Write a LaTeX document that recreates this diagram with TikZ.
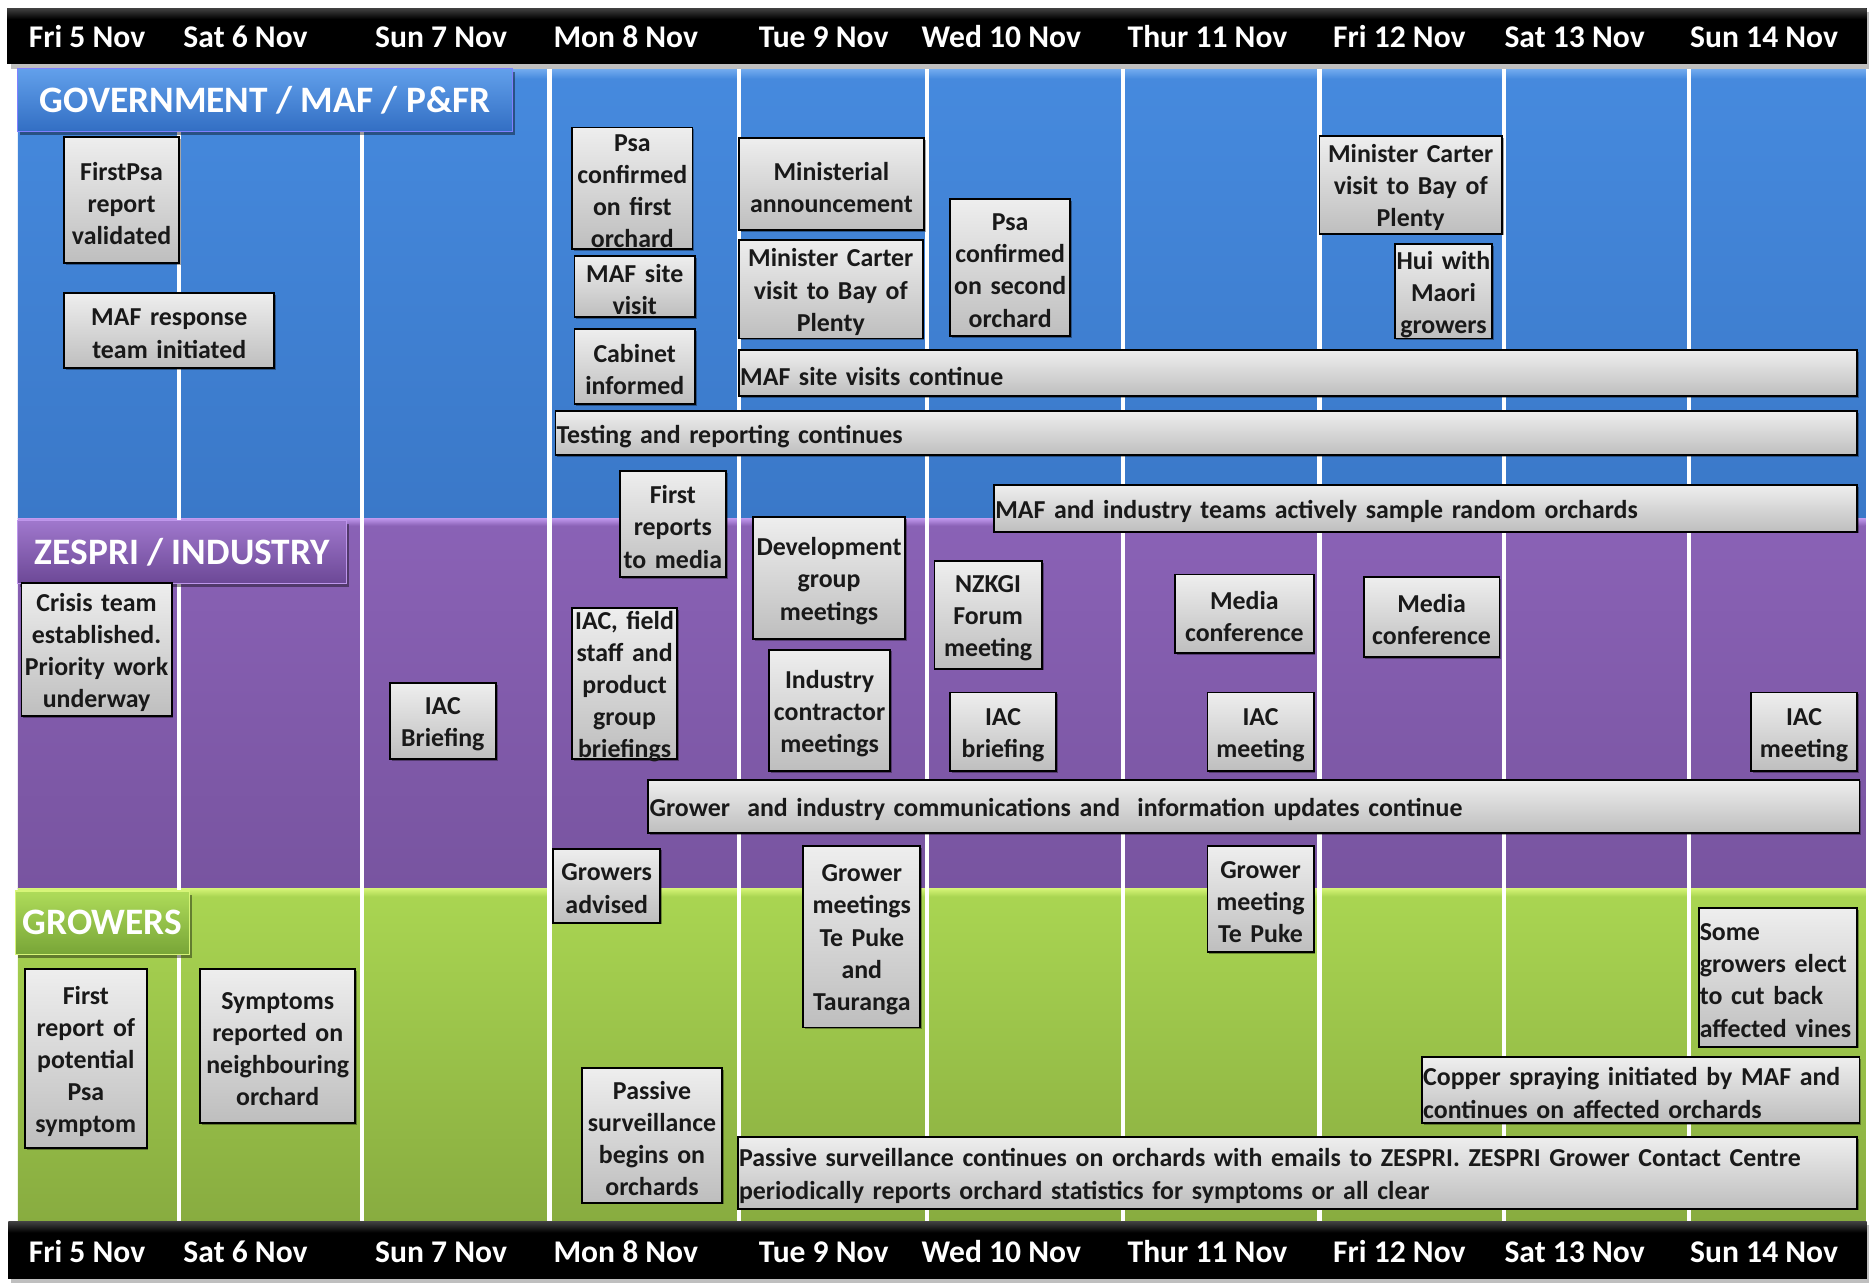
\documentclass[tikz,border=0pt]{standalone}
\usepackage{fontspec}
\setmainfont{Carlito}
\usetikzlibrary{shadows}
\definecolor{blueT}{RGB}{70,138,222}
\definecolor{blueB}{RGB}{58,120,200}
\definecolor{blueHi}{RGB}{120,175,240}
\definecolor{purT}{RGB}{138,98,182}
\definecolor{purB}{RGB}{120,84,160}
\definecolor{purHi}{RGB}{190,150,235}
\definecolor{grnT}{RGB}{170,214,82}
\definecolor{grnB}{RGB}{136,172,64}
\definecolor{grnHi}{RGB}{215,245,120}
\definecolor{boxT}{RGB}{238,238,238}
\definecolor{boxB}{RGB}{190,190,190}
\newcommand\ev[7]{%
  \pgfmathsetmacro\evw{#4-#2}%
  \pgfmathsetmacro\evh{#5-#3}%
  \pgfmathsetmacro\evtw{#4-#2-2}%
  \node[evframe, minimum width=\evw pt, minimum height=\evh pt] (#1) at ({(#2+#4)/2},{(#3+#5)/2}) {};
  \node[evtext, text width=\evtw pt, align=#6] (#1-t) at (#1.center) {#7};}
\begin{document}
\begin{tikzpicture}[x=1pt,y=-1pt,
  evframe/.style={draw=black, line width=1.6pt, top color=boxT, bottom color=boxB, inner sep=0pt,
    drop shadow={shadow xshift=1.5pt, shadow yshift=-1.5pt, opacity=0.35, fill=black}},
  evtext/.style={inner xsep=0pt, inner ysep=0pt, yshift=-2.5pt,
    font=\fontsize{21.7}{27}\selectfont\bfseries, text=black!90},
  daylab/.style={font=\fontsize{26.5}{30}\selectfont\bfseries, text=white, anchor=base, inner sep=0pt},
  bandlab/.style={font=\fontsize{31.3}{36}\selectfont\bfseries, text=white, inner sep=0pt, line width=1pt,
    drop shadow={shadow xshift=2pt, shadow yshift=-3pt, opacity=0.4, fill=black}},
  vline/.style={draw=white, line width=3.5pt}]
\useasboundingbox (0,0) rectangle (1568,1076);
\fill[white] (0,0) rectangle (1568,1076);
% bands
\shade[top color=blueT, bottom color=blueB] (15,57) rectangle (1565,435);
\shade[top color=blueHi, bottom color=blueT] (15,57) rectangle (1565,66);
\shade[top color=purT, bottom color=purB] (15,435) rectangle (1565,745);
\shade[top color=purHi, bottom color=purT] (15,435) rectangle (1565,441);
\shade[top color=grnT, bottom color=grnB] (15,745) rectangle (1565,1025);
\shade[top color=grnHi, bottom color=grnT] (15,745) rectangle (1565,752);
% day separators
\foreach \x in {150,304,461,620,778,942,1107,1262,1417} \draw[vline] (\x,58) -- (\x,1025);
% black date bars
\fill[black!25] (9,10) rectangle (1568,58);
\fill[black] (6,7) rectangle (1566,54);
\shade[top color=black!75, bottom color=black] (6,7) rectangle (1566,16);
\fill[black!25] (9,1028) rectangle (1568,1076);
\fill[black] (7,1025) rectangle (1566,1073);
\shade[top color=black!75, bottom color=black] (7,1025) rectangle (1566,1034);
\foreach \n/\x/\t in {1/73/Fri 5 Nov,2/206/Sat 6 Nov,3/370/Sun 7 Nov,4/525/Mon 8 Nov,5/691/Tue 9 Nov,6/840/Wed 10 Nov,7/1013/Thur 11 Nov,8/1174/Fri 12 Nov,9/1321/Sat 13 Nov,10/1480/Sun 14 Nov}{
  \node[daylab] (top\n) at (\x,39.5) {\t};
  \node[daylab] (bot\n) at (\x,1059.5) {\t};
}
% band labels
\node[bandlab, draw=blue!50!white, top color={rgb,255:red,98;green,160;blue,235}, bottom color={rgb,255:red,50;green,110;blue,195},
  minimum width=415pt, minimum height=53pt] (gov) at (222.5,84) {GOVERNMENT / MAF / P\&FR};
\node[bandlab, draw=purHi, top color={rgb,255:red,160;green,120;blue,205}, bottom color={rgb,255:red,108;green,72;blue,150},
  minimum width=276pt, minimum height=53pt] (zes) at (153,463) {ZESPRI / INDUSTRY};
\node[bandlab, draw=grnHi, top color={rgb,255:red,175;green,220;blue,90}, bottom color={rgb,255:red,120;green,165;blue,55},
  minimum width=146pt, minimum height=53pt] (grw) at (86,774) {GROWERS};
% government events
\ev{fpv}{54}{115}{150}{221}{center}{FirstPsa\\report\\validated}
\ev{mrt}{54}{246}{230}{309}{center}{MAF response\\team initiated}
\ev{pc1}{480}{107}{581}{209}{center}{Psa\\confirmed\\on first\\orchard}
\ev{msv}{482}{215}{583}{266}{center}{MAF site\\visit}
\ev{cab}{482}{276}{583}{339}{center}{Cabinet\\informed}
\ev{minann}{620}{116}{775}{193}{center}{Ministerial\\announcement}
\ev{mc1}{620}{201}{774}{284}{center}{Minister Carter\\visit to Bay of\\Plenty}
\ev{pc2}{797}{167}{898}{282}{center}{Psa\\confirmed\\on second\\orchard}
\ev{mc2}{1107}{114}{1260}{196}{center}{Minister Carter\\visit to Bay of\\Plenty}
\ev{hui}{1170}{205}{1252}{284}{center}{Hui with\\Maori\\growers}
\ev{msvc}{620}{294}{1558}{332}{left}{MAF site visits continue}
\ev{trc}{466}{345}{1558}{382}{left}{Testing and reporting continues}
\ev{frm}{520}{395}{609}{484}{center}{First\\reports\\to media}
\ev{mis}{834}{407}{1558}{446}{left}{MAF and industry teams actively sample random orchards}
% industry events
\ev{crisis}{18}{489}{144}{601}{center}{Crisis team\\established.\\Priority work\\underway}
\ev{iaca}{327}{573}{416}{637}{center}{IAC\\Briefing}
\ev{iacf}{480}{510}{568}{637}{center}{IAC, field\\staff and\\product\\group\\briefings}
\ev{dev}{632}{434}{759}{536}{center}{Development\\group\\meetings}
\ev{ind}{645}{545}{747}{647}{center}{Industry\\contractor\\meetings}
\ev{nzk}{784}{471}{874}{561}{center}{NZKGI\\Forum\\meeting}
\ev{iacb}{797}{581}{886}{647}{center}{IAC\\briefing}
\ev{meda}{986}{482}{1102}{548}{center}{Media\\conference}
\ev{medb}{1144}{484}{1258}{551}{center}{Media\\conference}
\ev{iacc}{1013}{581}{1102}{647}{center}{IAC\\meeting}
\ev{iacd}{1469}{581}{1558}{647}{center}{IAC\\meeting}
\ev{gic}{544}{654}{1560}{699}{left}{Grower\ \ and industry communications and\ \ information updates continue}
\ev{gad}{464}{712}{554}{774}{center}{Growers\\advised}
% grower events
\ev{gma}{674}{710}{772}{862}{center}{Grower\\meetings\\Te Puke\\and\\Tauranga}
\ev{gmb}{1013}{710}{1102}{799}{center}{Grower\\meeting\\Te Puke}
\ev{some}{1425}{762}{1558}{878}{left}{Some\\growers elect\\to cut back\\affected vines}
\ev{cop}{1193}{887}{1560}{942}{left}{Copper spraying initiated by MAF and\\continues on affected orchards}
\ev{psc}{619}{954}{1558}{1014}{left}{Passive surveillance continues on orchards with emails to ZESPRI. ZESPRI Grower Contact Centre\\periodically reports orchard statistics for symptoms or all clear}
\ev{frp}{21}{813}{123}{963}{center}{First\\report of\\potential\\Psa\\symptom}
\ev{sym}{168}{813}{298}{942}{center}{Symptoms\\reported on\\neighbouring\\orchard}
\ev{psb}{488}{896}{606}{1009}{center}{Passive\\surveillance\\begins on\\orchards}
\end{tikzpicture}
\end{document}
